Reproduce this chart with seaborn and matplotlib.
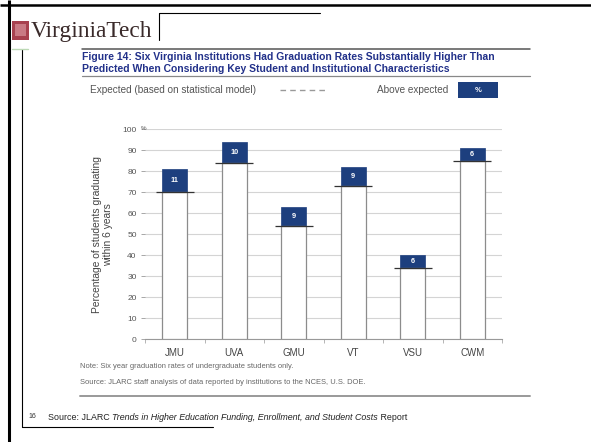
import matplotlib
matplotlib.use("Agg")
import matplotlib.pyplot as plt
import seaborn as sns
import pandas as pd
from matplotlib.patches import Rectangle

# ---- data ----
institutions = ["JMU", "UVA", "GMU", "VT", "VSU", "CWM"]
expected = [70, 84, 54, 73, 34, 85]        # expected rate (statistical model)
above = [11, 10, 9, 9, 6, 6]               # points above expected
y_ticks = [0, 10, 20, 30, 40, 50, 60, 70, 80, 90, 100]

title_l1 = "Figure 14: Six Virginia Institutions Had Graduation Rates Substantially Higher Than"
title_l2 = "Predicted When Considering Key Student and Institutional Characteristics"
legend_expected = "Expected (based on statistical model)"
legend_above = "Above expected"
ylabel = "Percentage of students graduating\nwithin 6 years"
note = "Note: Six year graduation rates of undergraduate students only."
source = "Source: JLARC staff analysis of data reported by institutions to the NCES, U.S. DOE."
page_no = "16"
footer = ["Source: JLARC ", "Trends in Higher Education Funding, Enrollment, and Student Costs", " Report"]

NAVY = "#1d3f7e"
TITLE_BLUE = "#22318a"

sns.set_theme(style="white")
plt.rcParams["font.family"] = ["Liberation Sans", "DejaVu Sans"]

W, H = 591, 442
fig = plt.figure(figsize=(W / 100, H / 100), dpi=100)
fig.patch.set_facecolor("white")

# overlay in pixel coordinates for slide decorations
ov = fig.add_axes([0, 0, 1, 1], zorder=0)
ov.set_xlim(0, W)
ov.set_ylim(H, 0)
ov.axis("off")

# ---- chart ----
ax = fig.add_axes([145 / W, 1 - 339.3 / H, 357 / W, 210 / H], zorder=2)
ax.patch.set_alpha(0)
df = pd.DataFrame({"inst": institutions, "expected": expected, "above": above})
df["actual"] = df["expected"] + df["above"]

sns.barplot(data=df, x="inst", y="actual", color=NAVY, saturation=1, width=0.42,
            edgecolor=NAVY, linewidth=0.5, ax=ax, zorder=3)
sns.barplot(data=df, x="inst", y="expected", color="white", saturation=1, width=0.42,
            edgecolor="#8c8c8c", linewidth=0.9, ax=ax, zorder=3)

xs = list(range(len(institutions)))
ax.hlines(df["expected"], [x - 0.32 for x in xs], [x + 0.32 for x in xs],
          color="#333333", lw=0.9, zorder=5)
for x, e, a in zip(xs, df["expected"], df["above"]):
    ax.text(x, e + a / 2, str(a), ha="center", va="center", color="white",
            fontsize=5.3, fontweight="bold", zorder=6)

ax.set_xlim(-0.5, 5.5)
ax.set_ylim(0, 100)
ax.set_yticks(y_ticks)
ax.set_yticklabels([str(t) for t in y_ticks])
ax.yaxis.grid(True, color="#d4d4d4", lw=0.8)
ax.set_axisbelow(True)
ax.set_xticks([x + 0.5 for x in range(-1, 6)], minor=True)
ax.tick_params(axis="y", left=True, length=3, width=0.6, color="#999999",
               labelsize=6, labelcolor="#555555", pad=3)
ax.tick_params(axis="x", which="major", length=0, labelsize=7,
               labelcolor="#444444", pad=6)
ax.tick_params(axis="x", which="minor", bottom=True, length=3, width=0.6, color="#aaaaaa")
for s in ["left", "top", "right"]:
    ax.spines[s].set_visible(False)
ax.spines["bottom"].set_color("#999999")
ax.spines["bottom"].set_linewidth(0.8)
ax.set_xlabel("")
ax.set_ylabel(ylabel, fontsize=7.4, color="#444444", linespacing=1.1)
ax.yaxis.label.set_va("center")
ax.yaxis.set_label_coords(-0.12, 0.5)
ax.text(-0.011, 1.003, "%", transform=ax.transAxes, fontsize=4.5, color="#555555",
        ha="left", va="center")

# ---- slide frame ----
ov.plot([0, W], [4.5, 4.5], color="black", lw=1.8, solid_capstyle="butt")
ov.plot([8.5, 8.5], [0, H], color="black", lw=2.2, solid_capstyle="butt")
ov.plot([21.7, 21.7], [49, 427], color="black", lw=0.8)
ov.plot([21.7, 213], [427, 427], color="black", lw=0.8)
ov.plot([159, 159], [13, 40], color="black", lw=0.8)
ov.plot([159, 320], [13, 13], color="black", lw=0.8)

# logo
ov.add_patch(Rectangle((12, 21), 17, 19, facecolor="#a8414f", edgecolor="none"))
ov.add_patch(Rectangle((15, 24), 11, 12, facecolor="#c97a84", edgecolor="none"))
ov.plot([12, 28], [49, 49], color="#bcd9b5", lw=1)
ov.text(31, 31, "VirginiaTech", family=["Liberation Serif", "DejaVu Serif"],
        fontsize=16.8, color="#3a2a2a", ha="left", va="center")

# title block
ov.plot([82, 530], [49, 49], color="#555555", lw=1.1)
ov.text(82, 57, title_l1, fontsize=7.5, fontweight="bold", color=TITLE_BLUE, ha="left", va="center")
ov.text(82, 69, title_l2, fontsize=7.5, fontweight="bold", color=TITLE_BLUE, ha="left", va="center")
ov.plot([82, 530], [76, 76], color="#888888", lw=0.9)

# legend row
ov.text(90, 90, legend_expected, fontsize=7.2, color="#555555", ha="left", va="center")
ov.plot([280, 328], [90, 90], color="#999999", lw=1.0, dashes=(4, 3))
ov.text(377, 90, legend_above, fontsize=7.2, color="#555555", ha="left", va="center")
ov.add_patch(Rectangle((458, 82), 40, 16, facecolor=NAVY, edgecolor="none"))
ov.text(478, 90, "%", fontsize=5.5, color="white", ha="center", va="center", fontweight="bold")

# notes
ov.text(80, 367, note, fontsize=5.4, color="#666666", ha="left", va="center")
ov.text(80, 382, source, fontsize=5.4, color="#666666", ha="left", va="center")
ov.plot([80, 530], [396, 396], color="#999999", lw=1.4)

# footer with mixed styles
ov.text(28, 417, page_no, fontsize=5, color="#333333", ha="left", va="center")
renderer = fig.canvas.get_renderer()
xpix = 48
styles = ["normal", "italic", "normal"]
for part, st in zip(footer, styles):
    t = fig.text(xpix / W, 1 - 417 / H, part, fontsize=6.4, style=st, color="#222222",
                 ha="left", va="center")
    bb = t.get_window_extent(renderer=renderer)
    xpix += bb.width

fig.savefig("out.png", dpi=100, facecolor="white")
